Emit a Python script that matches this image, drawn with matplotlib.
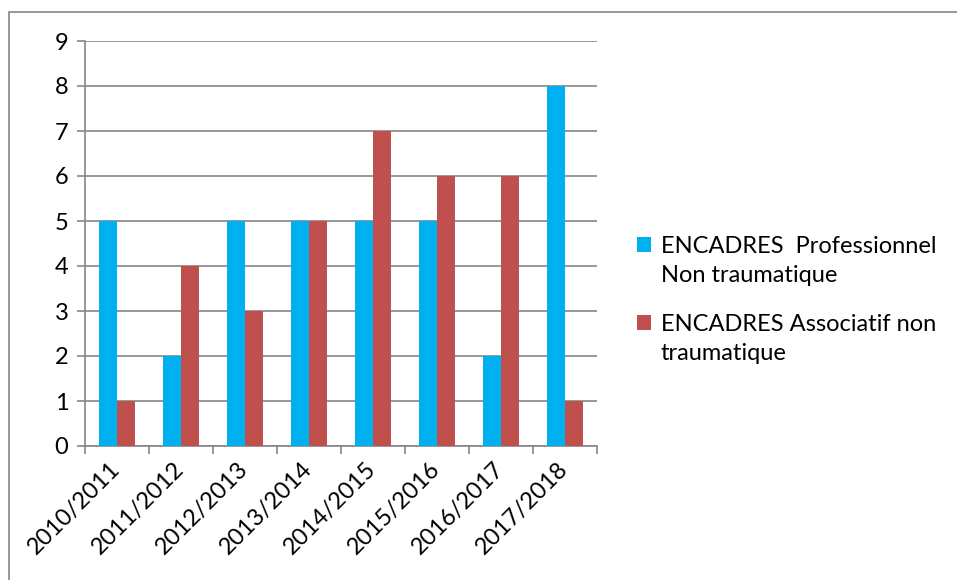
import matplotlib.pyplot as plt
import numpy as np
from matplotlib.patches import Rectangle
from matplotlib.container import BarContainer
from matplotlib.legend_handler import HandlerPatch, update_from_first_child

plt.rcParams['font.family'] = ['Lato', 'DejaVu Sans']

saisons = ["2010/2011", "2011/2012", "2012/2013", "2013/2014",
           "2014/2015", "2015/2016", "2016/2017", "2017/2018"]
professionnel = [5, 2, 5, 5, 5, 5, 2, 8]
associatif = [1, 4, 3, 5, 7, 6, 6, 1]
labels = ["ENCADRES  Professionnel\nNon traumatique",
          "ENCADRES Associatif non\ntraumatique"]

grey = "#868686"
fs = 17
fig = plt.figure(figsize=(9.57, 5.8), dpi=100)
ax = fig.add_axes([85 / 957, 1 - 446 / 580, 512 / 957, 405 / 580])

# cadre du graphique (bords gauche et haut visibles)
fig.patches.append(Rectangle((9 / 957, -0.1), 1.2, 1 - 12 / 580 + 0.1,
                             transform=fig.transFigure, fill=False,
                             edgecolor=grey, linewidth=1.2))

x = np.arange(len(saisons))
w = 1 / 3.5
ax.bar(x - w / 2, professionnel, w, color="#00B0F0", label=labels[0], zorder=3)
ax.bar(x + w / 2, associatif, w, color="#C0504D", label=labels[1], zorder=3)

ax.set_xlim(-0.5, len(saisons) - 0.5)
ax.set_ylim(0, 9)
ax.set_yticks(range(10))
ax.yaxis.grid(True, color=grey, linewidth=1.2, zorder=0)
ax.set_axisbelow(True)

ax.set_xticks(np.arange(len(saisons) + 1) - 0.5)
ax.set_xticklabels([])
ax.set_xticks(x, minor=True)
ax.set_xticklabels(saisons, minor=True, rotation=45, ha="right", va="center",
                   rotation_mode="anchor", fontsize=fs)
ax.tick_params(axis="x", which="minor", length=0, pad=14)
ax.tick_params(axis="x", which="major", length=6, width=1.2, color=grey)
ax.tick_params(axis="y", length=6, width=1.2, color=grey, labelsize=fs, pad=6)

for s in ["top", "right"]:
    ax.spines[s].set_visible(False)
for s in ["left", "bottom"]:
    ax.spines[s].set_color(grey)
    ax.spines[s].set_linewidth(1.2)


# carré de légende aligné sur la première ligne du libellé
def carre(legend, orig_handle, xdescent, ydescent, width, height, fontsize):
    return Rectangle((-xdescent, -ydescent + 0.72 * fontsize), width, height)


handler = HandlerPatch(patch_func=carre, update_func=update_from_first_child)
leg = fig.legend(loc="upper left", bbox_to_anchor=(616 / 957, 1 - 215 / 580),
                 frameon=False, fontsize=fs, handlelength=0.6, handleheight=0.6,
                 handletextpad=0.4, labelspacing=1.2,
                 handler_map={BarContainer: handler})
for t in leg.get_texts():
    t.set_linespacing(1.45)

fig.savefig("out.png", dpi=100)
